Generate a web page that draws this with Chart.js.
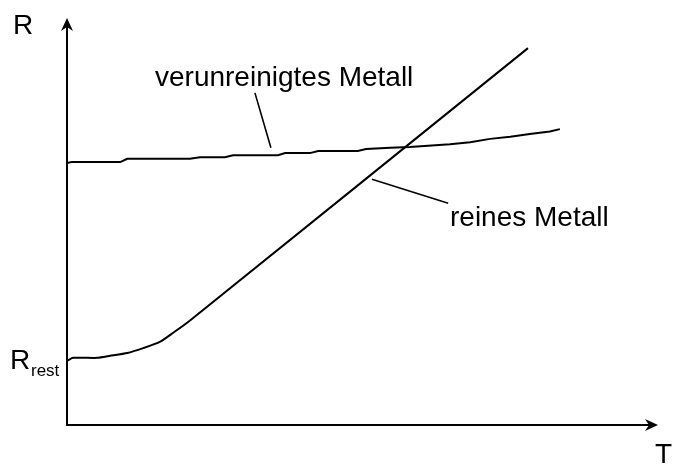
<!DOCTYPE html>
<html>
<head>
<meta charset="utf-8">
<script src="https://cdn.jsdelivr.net/npm/chart.js@4/dist/chart.umd.min.js"></script>
<style>
  html, body { margin: 0; padding: 0; background: #fff; }
  #wrap { width: 675px; height: 465px; }
</style>
</head>
<body>
<div id="wrap"><canvas id="c" width="675" height="465"></canvas></div>
<script>
// Temperature (T) and resistance (R) in arbitrary units, 0..100 on both axes
const pureT   = [0, 1.0, 5.1, 7.3, 10.2, 12.9, 15.7, 17.9, 20.5, 78.0];
const pureR   = [15.7, 16.5, 16.5, 17.0, 17.7, 18.9, 20.4, 22.6, 25.3, 92.6];

const impureT = [0, 0.8, 9.0, 10.2, 20.8, 22.5, 26.7, 28.1, 35.7, 36.9, 41.1, 42.5,
                 49.2, 50.6, 54.7, 58.0, 64.8, 68.2, 71.6, 75.0, 78.3, 81.7, 83.4];
const impureR = [64.4, 64.6, 64.6, 65.4, 65.4, 65.8, 65.8, 66.3, 66.3, 66.8, 66.8, 67.3,
                 67.3, 67.8, 68.1, 68.3, 69.0, 69.5, 70.3, 70.8, 71.5, 72.1, 72.7];

const seriesNames = ['reines Metall', 'verunreinigtes Metall'];
const axisNames = ['T', 'R'];

const toPoints = (xs, ys) => xs.map((x, i) => ({ x: x, y: ys[i] }));

// Axes with arrowheads, axis letters, curve labels with leader lines
const decorations = {
  id: 'decorations',
  afterDatasetsDraw(chart) {
    const ctx = chart.ctx;
    const a = chart.chartArea;
    const xs = chart.scales.x, ys = chart.scales.y;
    const px = v => xs.getPixelForValue(v);
    const py = v => ys.getPixelForValue(v);
    ctx.save();
    ctx.strokeStyle = '#000';
    ctx.fillStyle = '#000';
    ctx.lineWidth = 2;
    ctx.lineCap = 'butt';

    // axes
    ctx.beginPath();
    ctx.moveTo(a.left, a.top + 3);
    ctx.lineTo(a.left, a.bottom);
    ctx.lineTo(a.right - 3, a.bottom);
    ctx.stroke();

    // arrowheads
    function head(tx, ty, dir) {
      ctx.save();
      ctx.translate(tx, ty);
      ctx.rotate(dir);
      ctx.beginPath();
      ctx.moveTo(0, 0);
      ctx.lineTo(-13, -6);
      ctx.lineTo(-9, 0);
      ctx.lineTo(-13, 6);
      ctx.closePath();
      ctx.fill();
      ctx.restore();
    }
    head(a.left, a.top, -Math.PI / 2);
    head(a.right, a.bottom, 0);

    // leader lines
    ctx.lineWidth = 1.6;
    ctx.beginPath();
    ctx.moveTo(px(31.8), py(81.6));
    ctx.lineTo(px(34.5), py(68.1));
    ctx.moveTo(px(51.6), py(60.4));
    ctx.lineTo(px(64.5), py(54.5));
    ctx.stroke();

    // texts
    ctx.textBaseline = 'alphabetic';
    ctx.textAlign = 'left';
    ctx.font = '28px "Liberation Sans", Arial, sans-serif';
    ctx.fillText(seriesNames[1], 155, 86);
    ctx.fillText(seriesNames[0], 450, 226);
    ctx.fillText(axisNames[1], 13, 34);
    ctx.fillText(axisNames[0], 655, 463);
    ctx.fillText('R', 10, 369);
    ctx.font = '17px "Liberation Sans", Arial, sans-serif';
    ctx.fillText('rest', 31, 376);
    ctx.restore();
  }
};

new Chart(document.getElementById('c'), {
  type: 'line',
  data: {
    datasets: [
      {
        label: seriesNames[0],
        data: toPoints(pureT, pureR),
        borderColor: '#000',
        borderWidth: 2,
        pointRadius: 0,
        tension: 0.2,
        fill: false
      },
      {
        label: seriesNames[1],
        data: toPoints(impureT, impureR),
        borderColor: '#000',
        borderWidth: 2,
        pointRadius: 0,
        tension: 0,
        fill: false
      }
    ]
  },
  options: {
    responsive: false,
    animation: false,
    layout: { padding: { left: 67, right: 17, top: 18, bottom: 40 } },
    plugins: { legend: { display: false }, tooltip: { enabled: false } },
    scales: {
      x: { type: 'linear', min: 0, max: 100, display: false },
      y: { type: 'linear', min: 0, max: 100, display: false }
    }
  },
  plugins: [decorations]
});
</script>
</body>
</html>
